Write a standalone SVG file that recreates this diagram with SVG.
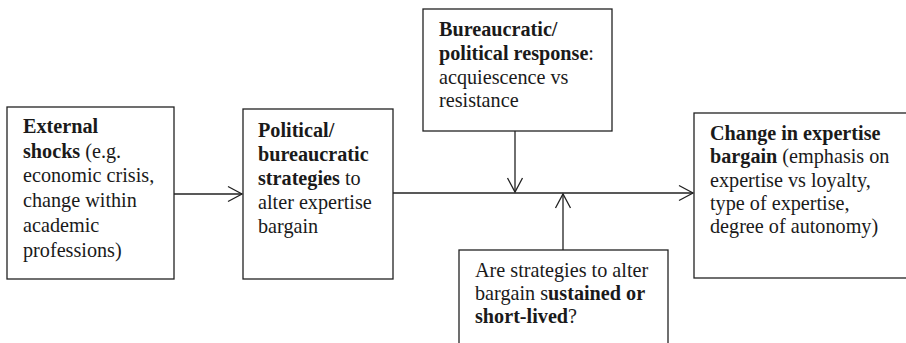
<svg xmlns="http://www.w3.org/2000/svg" width="906" height="343" viewBox="0 0 906 343">
<defs>
<style>
.box{fill:#fff;stroke:#222;stroke-width:1.3}
.t{font-family:"Liberation Serif","Times New Roman",serif;font-size:20.2px;fill:#1a1a1a}
.b{font-weight:bold}
.c{stroke:#222;stroke-width:1.3;fill:none}
</style>
<marker id="ah" markerWidth="18" markerHeight="18" refX="15" refY="9" orient="auto" markerUnits="userSpaceOnUse">
<path d="M1,1.5 L15,9 L1,16.5" fill="none" stroke="#222" stroke-width="1.3"/>
</marker>
</defs>
<rect width="906" height="343" fill="#fff"/>
<g id="external-shocks">
<rect class="box" x="7" y="107" width="167" height="172"/>
<text class="t" x="23" y="133"><tspan class="b">External</tspan></text>
<text class="t" x="23" y="158"><tspan class="b">shocks</tspan> (e.g.</text>
<text class="t" x="23" y="182">economic crisis,</text>
<text class="t" x="23" y="207">change within</text>
<text class="t" x="23" y="232">academic</text>
<text class="t" x="23" y="257">professions)</text>
</g>
<g id="strategies">
<rect class="box" x="243" y="109" width="150" height="170"/>
<text class="t" x="258" y="137"><tspan class="b">Political/</tspan></text>
<text class="t" x="258" y="161"><tspan class="b">bureaucratic</tspan></text>
<text class="t" x="258" y="185"><tspan class="b">strategies</tspan> to</text>
<text class="t" x="258" y="209">alter expertise</text>
<text class="t" x="258" y="233">bargain</text>
</g>
<g id="response">
<rect class="box" x="423" y="9" width="189" height="122"/>
<text class="t" x="439" y="36"><tspan class="b">Bureaucratic/</tspan></text>
<text class="t" x="439" y="60"><tspan class="b">political response</tspan>:</text>
<text class="t" x="439" y="84">acquiescence vs</text>
<text class="t" x="439" y="107">resistance</text>
</g>
<g id="sustained">
<rect class="box" x="459" y="250" width="209" height="100"/>
<text class="t" x="475" y="277">Are strategies to alter</text>
<text class="t" x="475" y="300">bargain s<tspan class="b">ustained or</tspan></text>
<text class="t" x="475" y="323"><tspan class="b">short-lived</tspan>?</text>
</g>
<g id="change">
<rect class="box" x="694" y="113" width="220" height="165"/>
<text class="t" x="710" y="140"><tspan class="b">Change in expertise</tspan></text>
<text class="t" x="710" y="163"><tspan class="b">bargain</tspan> (emphasis on</text>
<text class="t" x="710" y="187">expertise vs loyalty,</text>
<text class="t" x="710" y="210">type of expertise,</text>
<text class="t" x="710" y="233">degree of autonomy)</text>
</g>
<g id="connectors">
<line class="c" x1="174" y1="194" x2="242" y2="194" marker-end="url(#ah)"/>
<line class="c" x1="393" y1="193" x2="693" y2="193" marker-end="url(#ah)"/>
<line class="c" x1="515" y1="131" x2="515" y2="192" marker-end="url(#ah)"/>
<line class="c" x1="563" y1="250" x2="563" y2="194" marker-end="url(#ah)"/>
</g>
</svg>
